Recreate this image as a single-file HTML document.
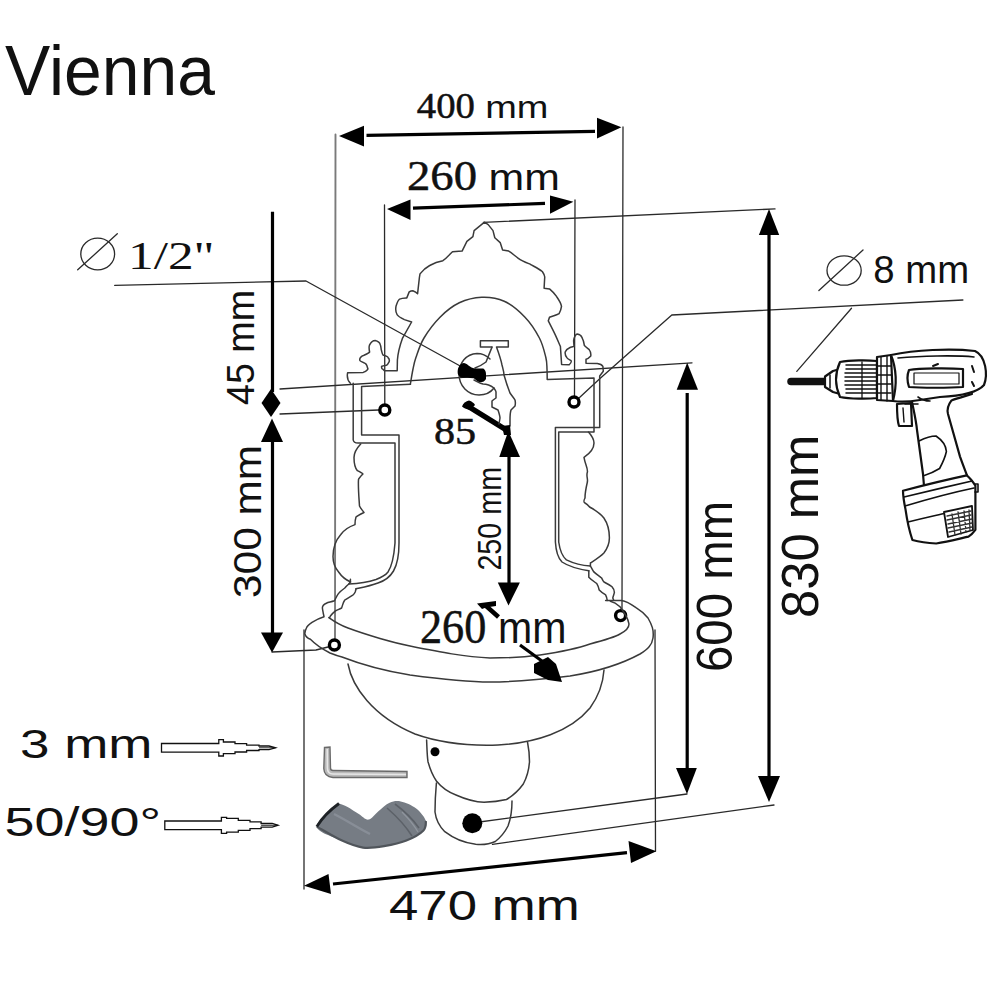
<!DOCTYPE html>
<html><head><meta charset="utf-8">
<style>
html,body{margin:0;padding:0;background:#fff;width:999px;height:999px;overflow:hidden}
svg{display:block}
text{font-family:"Liberation Sans",sans-serif;fill:#111}
.sf{font-family:"Liberation Serif",serif;stroke:#111;stroke-width:0.5}
.t{fill:none;stroke:#2a2a2a;stroke-width:1.3;stroke-linejoin:round;stroke-linecap:round}
.s{fill:none;stroke:#3a3a3a;stroke-width:1.5;stroke-linejoin:round;stroke-linecap:round}
.k{fill:none;stroke:#000;stroke-width:3.2}
.h{fill:#000;stroke:none}
.ring{fill:none;stroke:#000;stroke-width:3.4}
</style></head><body>
<svg width="999" height="999" viewBox="0 0 999 999">
<rect width="999" height="999" fill="#fff"/>

<!-- ===== TEXT ===== -->
<text id="t1" x="5.0" y="95.0" font-size="71.00" textLength="210.0" lengthAdjust="spacingAndGlyphs">Vienna</text>
<text id="t2a" class="sf" x="416.8" y="118.0" font-size="36.35" textLength="58.1" lengthAdjust="spacingAndGlyphs">400</text>
<text id="t2b" x="485.2" y="118.0" font-size="32.05" textLength="63.2" lengthAdjust="spacingAndGlyphs">mm</text>
<text id="t3a" class="sf" x="407.0" y="189.6" font-size="42.45" textLength="70.0" lengthAdjust="spacingAndGlyphs">260</text>
<text id="t3b" x="488.6" y="189.6" font-size="37.82" textLength="71.3" lengthAdjust="spacingAndGlyphs">mm</text>
<text id="t4" class="sf" style="stroke:none" x="128.0" y="268.5" font-size="39.00" textLength="86.6" lengthAdjust="spacingAndGlyphs">1/2"</text>
<text id="t5" transform="translate(254.0,405.0) rotate(-90)" font-size="38.60" textLength="115.1" lengthAdjust="spacingAndGlyphs">45 mm</text>
<text id="t6" transform="translate(261.0,598.0) rotate(-90)" font-size="38.60" textLength="153.1" lengthAdjust="spacingAndGlyphs">300 mm</text>
<text id="t7" class="sf" x="434.0" y="444.0" font-size="37.60" textLength="42.2" lengthAdjust="spacingAndGlyphs">85</text>
<text id="t8" transform="translate(501.2,570.6) rotate(-90)" font-size="32.32" textLength="103.7" lengthAdjust="spacingAndGlyphs">250 mm</text>
<text id="t9a" class="sf" x="420.0" y="642.8" font-size="47.81" textLength="66.3" lengthAdjust="spacingAndGlyphs">260</text>
<text id="t9b" x="498.0" y="642.8" font-size="43.78" textLength="68.4" lengthAdjust="spacingAndGlyphs">mm</text>
<text id="t10" transform="translate(732.0,672.0) rotate(-90)" font-size="50.07" textLength="171.2" lengthAdjust="spacingAndGlyphs">600 mm</text>
<text id="t11" transform="translate(818.0,618.0) rotate(-90)" font-size="51.40" textLength="183.1" lengthAdjust="spacingAndGlyphs">830 mm</text>
<text id="t12" x="873.2" y="283.2" font-size="38.03" textLength="95.9" lengthAdjust="spacingAndGlyphs">8 mm</text>
<text id="t13" x="20.0" y="758.0" font-size="41.43" textLength="132.4" lengthAdjust="spacingAndGlyphs">3 mm</text>
<text id="t14" x="4.6" y="835.8" font-size="40.90" textLength="156.4" lengthAdjust="spacingAndGlyphs">50/90°</text>
<text id="t15" x="389.0" y="919.6" font-size="42.17" textLength="190.7" lengthAdjust="spacingAndGlyphs">470 mm</text>

<!-- diameter symbols -->
<ellipse class="t" cx="97.7" cy="254" rx="16.9" ry="15.9"/>
<line class="t" x1="77.7" y1="269.8" x2="117.3" y2="233.8"/>
<ellipse class="t" cx="844.1" cy="270.5" rx="17.1" ry="14.7"/>
<line class="t" x1="818.9" y1="290.5" x2="863" y2="250"/>

<!-- ===== THIN EXTENSION / LEADER LINES ===== -->
<g class="t">
<line x1="335.5" y1="134.5" x2="335" y2="639" stroke="#7a7a7a" stroke-width="1.9"/>
<line x1="623" y1="127" x2="622" y2="609"/>
<line x1="384.5" y1="205" x2="384.8" y2="403.5"/>
<line x1="575" y1="200" x2="574.5" y2="395.5"/>
<line x1="483.5" y1="222.4" x2="775" y2="208.9"/>
<polyline points="114.7,285.4 306,281 462,367"/>
<line x1="280" y1="389" x2="692" y2="362.8"/>
<line x1="280" y1="414" x2="378.5" y2="410"/>
<polyline points="272,652 316,650 328,647"/>
<line x1="472" y1="823" x2="687" y2="794"/>
<line x1="492.5" y1="844.3" x2="774" y2="805"/>
<line x1="304" y1="630" x2="304" y2="889"/>
<line x1="655" y1="630" x2="655.5" y2="851"/>
<polyline points="579,398 600,378.6 671.8,315 962.9,300"/>
<line x1="851.5" y1="308.3" x2="796.8" y2="371.4"/>
</g>

<!-- ===== THICK DIMENSION ARROWS ===== -->
<g class="k">
<line x1="366.5" y1="135.3" x2="595" y2="131.3"/>
<line x1="413" y1="208.2" x2="545" y2="203.4"/>
<line x1="272.5" y1="211.7" x2="272.5" y2="392"/>
<line x1="272.5" y1="440" x2="272.5" y2="634"/>
<line x1="509" y1="455" x2="509" y2="584"/>
<line x1="687.2" y1="393" x2="687.2" y2="770"/>
<line x1="769" y1="233" x2="769" y2="778"/>
<line x1="333" y1="884" x2="627" y2="852.7"/>
<line x1="466" y1="405" x2="508" y2="431" stroke-width="5.5"/>
</g>
<g class="h">
<polygon points="339,136 364,125.7 364,146.5"/>
<polygon points="621.4,127.3 597,117.7 597,138.5"/>
<polygon points="387,209 410.5,199.4 410.5,220"/>
<polygon points="573.4,201.8 550,195.4 550,213.8"/>
<polygon points="271,389 280.5,403 271,417 261.5,403"/>
<polygon points="272,418.6 261,442 283,442"/>
<polygon points="261,632.5 283,632.5 272,652.5"/>
<polygon points="508.3,431 499.3,457 520,457"/>
<polygon points="497.8,582.6 519.9,582.6 508.5,605.4"/>
<polygon points="687.2,362.8 676.7,389.8 698,389.8"/>
<polygon points="676,768 696.8,768 687,794"/>
<polygon points="769,208.9 758.9,235 779.2,235"/>
<polygon points="758,776 780,776 769,802"/>
<polygon points="304,885.7 328.5,874 331,894"/>
<polygon points="656.4,851.3 628.5,841 631,863"/>
</g>

<!-- hollow arrows -->
<g fill="#fff" stroke="#111" stroke-width="1.3" stroke-linejoin="miter">
<path d="M161.5,743.5 L218.8,743.5 L218.8,739.6 L223.4,739.6 L223.4,742.0 L235.0,742.0 L235.0,743.6 L246.6,743.6 L246.6,745.1 L259.0,745.1 L259.0,746.0 L269.0,746.0 L275.5,747.8 L269.0,749.6 L259.0,749.6 L259.0,750.5 L246.6,750.5 L246.6,752.0 L235.0,752.0 L235.0,753.6 L223.4,753.6 L223.4,756.0 L218.8,756.0 L218.8,752.1 L161.5,752.1 Z"/>
<path d="M259,747.8 L275.5,747.8" stroke-width="0.9"/>
<path d="M164.8,821.0 L221.4,821.0 L221.4,817.3 L226.6,817.3 L226.6,818.4 L238.3,818.4 L238.3,820.3 L250.0,820.3 L250.0,821.9 L261.1,821.9 L261.1,823.5 L272.2,823.5 L278.0,825.3 L272.2,827.1 L261.1,827.1 L261.1,828.7 L250.0,828.7 L250.0,830.3 L238.3,830.3 L238.3,832.2 L226.6,832.2 L226.6,833.3 L221.4,833.3 L221.4,829.6 L164.8,829.6 Z"/>
<path d="M261.1,825.3 L278,825.3" stroke-width="0.9"/>
</g>
<!-- allen key -->
<path d="M324.5,747.5 L330,747 L330.5,768 C330.5,769.5 331.5,770.5 333,770.5 L407,771.5 L407,777.5 L333,777.5 C327,777 324,774 323.8,768.5 Z" fill="#b9b9b9" stroke="#6a6a6a" stroke-width="1.4"/>
<path d="M327.2,749 L327.4,768 C327.5,772 329.5,774 333,774 L406,774.5" fill="none" stroke="#e6e6e6" stroke-width="1.6"/>
<!-- elbow pipe -->
<g>
<path d="M339.0,803.5 C340.4,804.1 344.3,805.2 347.6,807.0 C350.9,808.8 355.3,811.9 358.8,814.0 C362.3,816.1 365.3,820.1 368.6,819.6 C371.9,819.1 374.9,814.0 378.4,811.2 C381.9,808.4 385.9,804.4 389.6,802.8 C393.3,801.2 396.4,800.5 400.8,801.4 C405.2,802.3 412.0,805.1 416.2,808.4 C420.4,811.7 424.8,817.3 426.0,821.0 C427.2,824.7 426.5,827.5 423.2,830.8 C419.9,834.1 412.9,838.0 406.4,840.6 C399.9,843.2 391.2,845.0 384.0,846.2 C376.8,847.4 370.0,848.5 363.0,847.6 C356.0,846.7 349.7,844.1 342.0,840.6 C334.3,837.1 317.3,832.8 316.8,826.6 C316.3,820.4 335.3,807.4 339.0,803.5 Z" fill="#767c84"/>
<path d="M316.8,826.6 C321.0,828.9 334.3,837.1 342.0,840.6 C349.7,844.1 356.0,846.7 363.0,847.6 C370.0,848.5 376.8,847.4 384.0,846.2 C391.2,845.0 399.9,843.2 406.4,840.6 C412.9,838.0 419.9,834.1 423.2,830.8 C426.5,827.5 425.5,822.6 426.0,821.0" fill="none" stroke="#50555b" stroke-width="2.2"/>
<path d="M339,803.5 C330,810 322,818 316.8,826.6" stroke="#1e2226" stroke-width="2.8" fill="none"/>
<path d="M334,814 C346,820 358,828 370,834" stroke="#9096a0" stroke-width="2.5" fill="none" opacity="0.7"/>
<path d="M387,808 C395,815 405,825 412,836 M395,804 C403,810 412,818 419,828" stroke="#5c6168" stroke-width="1.6" fill="none"/>
<path d="M402,812 C408,818 414,825 418,832" stroke="#9aa0a8" stroke-width="1.3" fill="none" opacity="0.7"/>
</g>
<!-- drill -->
<g fill="none" stroke="#111" stroke-width="2.2" stroke-linejoin="round" stroke-linecap="round">
<line x1="791" y1="381.5" x2="827" y2="381.5" stroke-width="7.5"/>
<path d="M825,376.5 L833,371 L840,369 L840,394 L833,392 L825,387 Z" fill="#fff"/>
<path d="M830,375 L830,388" stroke-width="1.5"/>
<path d="M840,362 C850,360 868,360 877,361 L877,398 C868,399 850,399 840,397 C835,386 835,373 840,362 Z" fill="#fff"/>
<path d="M846,365 L876,365 M846,369 L876,369 M845,373 L876,373 M845,377 L876,377 M845,381 L876,381 M845,385 L876,385 M846,389 L876,389 M846,393 L876,393" stroke-width="1.5"/>
<path d="M862,362 L862,398" stroke-width="1.3"/>
<path d="M877,357 L891,355 L893,401 L877,400 Z" fill="#fff"/>
<path d="M881,357 L881,400 M887,356 L887,401 M877,366 L891,366 M877,375 L891,375 M877,384 L891,384 M877,393 L891,393" stroke-width="1.4"/>
<path d="M891,355 C915,350 950,348 975,351 C986,356 988,375 984,385 C978,392 960,396 940,397 L920,400 C908,402 900,402 893,401 C897,385 897,370 891,355 Z" fill="#fff"/>
<path d="M898,358 C920,356 955,355 974,357" stroke-width="1.6"/>
<path d="M909,370 C920,368 950,368 963,369 L963,387 C950,388 920,388 909,387 C907,381 907,375 909,370 Z"/>
<path d="M914,373 L959,373 L959,384 L914,384 Z" stroke-width="1.2"/>
<path d="M933,366 L938,364 M972,366 L974,372 M972,382 L974,386" stroke-width="2"/>
<path d="M897,404 L911,403 L912,426 L899,426 C897,420 897,410 897,404 Z" fill="#fff"/>
<path d="M903,408 L904,422" stroke-width="1.4"/>
<path d="M912,402 C914,412 916,420 917,430 C919,445 921,460 923,474 L924,486" />
<path d="M972,394 C962,397 955,399 951.5,400.4 C948,405 947,410 948,414 C952,428 956,442 960,456.6 C963,465 965,470 967,475.4"/>
<path d="M905,404 L918,404 M918,397 C922,400 926,401 930,401" stroke-width="1.6"/>
<path d="M919,441 C925,438 930,436 936,436 C942,440 946,446 946.4,451.5 C945,458 942,464 939.6,468.5 C934,472 929,474 924.3,475.4" stroke-width="1.6"/>
<path d="M903,490.7 C925,485 945,480 966.8,475.4 C970,478 973,482 975.4,485.6 L975.4,529.8 C973,533 971,535 968.5,536.6 C958,539 946,542 936.2,543.5 C928,543 920,542 912.4,540 C909,530 907,520 905.5,509.4 C904,502 903,496 903,490.7 Z" fill="#fff"/>
<path d="M904,497 C925,492 950,486 972,481 M905,506 C925,500 950,493 974,488 M908,522 C928,517 938,515 946,513" stroke-width="1.6"/>
<path d="M975,484 L978,484 L978,492 L975,492" stroke-width="1.6"/>
<path d="M944,512 L972,506 L973,530 L948,537 Z" fill="#fff" stroke-width="1.8"/>
<path d="M947,516 L971,511 M947,520 L971,515 M948,524 L972,519 M948,528 L972,523 M949,532 L972,527 M952,514 L955,535 M958,512 L961,534 M964,511 L966,532 M969,510 L970,530" stroke-width="1.3" stroke="#333"/>
</g>
<!-- holes -->
<circle class="ring" cx="384.8" cy="410" r="5"/>
<circle class="ring" cx="574" cy="402" r="5"/>
<circle class="ring" cx="334.4" cy="645" r="5"/>
<circle class="ring" cx="620.6" cy="615.6" r="5"/>

<!-- ===== SINK BODY ===== -->
<g id="sink" class="s">
<!-- crest outer with finials -->
<path d="M350.4,383.3 C347,380 347,376 347.6,372.8 L363.2,372.4 C367,371 368.5,369 367.6,368 C367,365 366,364 365.6,363.6 C362,362 360,361 360,360.8 C359,358.5 361,356 364,355.2 C367,354 369,353 369.6,352 C369,349 369,346 369.6,344.8 C371,342 373,340.4 375.2,340.4 C378,341 380,343 380,344 C381,346 381,348 381.2,349.6 C382,352 382,354 383.2,355.2 C386,356 388,356.5 388,357.6 C389.5,359 389.5,360.5 389.2,361.6 C388,364 387,365 386.4,365.2 C384,365.5 382,366 381.6,366.4 C381.5,368 382,369 382.4,368.8 L384.4,370.8 L397.2,370.8 L397.4,360 C398,352 400,345 402.4,338.4 L411.6,322 L404.4,319.6 C401,318 398,316.5 397.2,314.8 C395.5,312 395.5,309 396,306.3 C397,303 398,300 399.6,299.1 C402,298 405,298 406.8,297.9 L409.2,291.9 C410.5,291 411.5,290.7 412.8,290.7 C415,291.5 417,293 417.6,293.7 L419.4,277.5 L420,273.9 C423,270 426,267.5 429.7,265.5 C434,263 438,261.5 442.9,260.7 C447,258 450,254 452.5,251.7 L462.1,251.1 L466.9,241.4 L472.9,236.6 L474.1,230.6 L484.5,222.2 L488.2,224.6 L493,230.6 L494.8,237.8 L500.2,242.6 L502.6,249.9 L508.7,251.1 C512,253 515,256 518.3,258.3 C522,261 526,262.5 530.3,264.3 C535,267 539,269 542.3,271.5 C544,274 545,276 544.7,277.5 L544.1,288.3 L549.5,288.9 C552,291 555,294 556.7,296.7 C559,300 561,303 561.5,306.3 C561,310 560,312 559.1,313.6 C556,315.5 552,316 549.5,317.2 L548.3,320.8 L553.1,330.4 C557,338 560,346 560.4,346.4 L561.6,364.4 L569.2,364.8 C571,363 571.5,361.5 571.2,360.8 C569,359.5 567,358.5 566.8,357.6 C565,355.5 565,353.5 565.2,352 C566,350 568,348.5 569.2,348 C571,347 573,346.8 574,346.4 L573.6,340.8 C574,337 576,334 577.2,334 C580,334.5 581.5,336 582,337.6 C583.5,340 584,343 584.4,345.6 C586,347.5 588,348.5 589.2,349.6 C591,352 591,354 590.8,356 C589,358 587,359 586,359.2 L586,363.2 L597.3,363.6 C600,364 602,365 602.9,366.4 L603.3,371.2 L599.7,376 L599.7,427.6 L555.4,427.6 L555.4,542 C556,552 558,558 562,562 C568,566 578,569 588.8,570.8"/>
<!-- inner arch -->
<path d="M410.4,384.0 C410.8,381.5 412.1,373.4 413.0,369.0 C413.9,364.6 414.2,362.5 416.0,357.3 C417.8,352.1 420.0,344.7 424.0,338.0 C428.0,331.3 434.1,323.1 440.0,317.2 C445.9,311.3 452.4,306.1 459.3,302.8 C466.2,299.5 474.2,297.5 481.7,297.2 C489.2,296.9 497.0,297.9 504.2,301.2 C511.4,304.5 519.1,311.1 525.0,317.2 C530.9,323.3 535.9,331.3 539.4,338.0 C542.9,344.7 544.5,352.1 545.8,357.3 C547.1,362.5 546.8,365.3 547.0,369.0 C547.2,372.7 547.2,377.8 547.2,379.6 L594,378 L594,432 L558.7,432 L558.7,542 C560,551 563,557 566.4,559.8 C573,563 582,565.5 590.4,566"/>
<!-- left band -->
<path d="M353.2,383.3 L353.2,440 C353.5,442 355,443 358,443 L395,443 L395,543 C394,556 392,566 388,572 C385,576 380,578 376,579.5 C370,581.5 360,583.5 348.8,584"/>
<path d="M361.6,386.4 L410.5,384.3 M361.6,386.4 L361.6,435 L399,435 L399,543 C399,556 397,565 393.5,571 C390,577 384,581 378,583 C370,586 362,587.5 356,588.8"/>
<!-- left bulb -->
<path d="M360.7,444 C356,449 354,453 354,457.4 C354,464 356,469 357.4,470.7 C360,472 362,473 362.9,474 C361,476 359,478 358.5,479.5 C358,488 359,498 359.5,506 C361,509 363,511 364,512.5 C361,514 357,516 356,517 C355,520 355,522 355,524.6 C348,527 344,530 340.8,534.5 C335,541 333,548 333,556.6 C333,563 335,568 338.6,572 C342,577 346,580 350.7,582"/>
<!-- right bulb -->
<path d="M588.5,432 C592,436 594,439 594,443 C594,449 589,454 584,457.4 C585,464 588,468 587.4,472 C586,476 588,478 587.4,482 C586,488 585,492 585,498 C584,500 583,502 585,503 C587,504 588,505 589.6,507 C595,510 600,513 603.9,518 C608,524 609.4,531 609.4,537.8 C609.4,545 607,549 603.9,553 C600,557 595,560 590.4,563 L590.4,566"/>
<!-- left zigzag leg -->
<path d="M350.4,579.2 C350.6,581 350,583 348.8,584 C347,585.5 346,586.5 344.8,588 C342,590 340,591.5 338.4,593.6 C336.5,596 335.5,599 334.4,600.8 C331,602 328.5,602.3 326.4,603.2 C323.5,604.5 322.3,606 322.4,608 C322.6,610 323,611.5 323.2,612.8 C323.5,614.5 324,616 324,616.8 C320,618 316,620 312,622.4 C309,624.5 307,626 306.4,628 C305.5,630 304.8,632 304.8,633.7 C305.5,636 307,638 310.4,639.3 C314,643 320,648 330,653 C335,655 338,656 342,657 C360,664 385,671 410,675 C440,679 465,682 490,682 C520,682 545,679 570,676 C595,672 618,666 640,654 C648,649 652,645 653,638 C654,630 652,625 648,618 C644,613 640,610 636,607.6 C631,604 626,601 621.6,600.4 L605.6,600.4"/>
<path d="M356,588.8 C355.8,590 355.5,591 355.2,592 C354.5,593.5 353.8,594.5 352.8,595.2 C350,597 347,598.5 344.8,600 C343,602.5 342.5,605.5 341.6,608 C339,609.5 337,610 335.2,611.2 C333,613 331.5,614.5 330.4,616 L329.6,617.6"/>
<!-- right zigzag leg -->
<path d="M590.4,566 C591.5,568 592.5,570 593.6,571.6 C596,574 599,576 601.6,578 C602.5,579.5 603,581 604,582 C607,583.5 610,585 612,586.8 C613.5,588.5 614.4,590.5 614.4,592.4 C614,594.5 613,596.5 612.8,598 L613.6,600"/>
<path d="M588.8,570.8 C588.8,573 588.8,575.5 588.8,577.2 C591,579.5 594,581.5 596.8,583.6 C598,585.5 598.8,588 599.2,590 C601,592 603.5,593.5 605.6,594.8 C606.5,596.5 607,598.5 607.2,600.4"/>
<!-- front lip -->
<path d="M328.8,617.6 C335,622 341,625.5 348,628 C356,631 365,634 380,638.5 C392,642 400,644 410,646 C440,652 465,657 490,658 C510,658 525,657 540,655 C560,652 576,649 590,644 C605,640 615,637 620,634 C626,631 629,627 629,624 C628,618 624,612 620,606.8 C617,604 614,602 610.4,601.2"/>
<!-- bowl body -->
<path d="M348,664 C352,686 372,716 415,734 C440,743 470,746 498,745 C535,743 570,732 590,708 C598,697 603,684 604,670"/>
<!-- pedestal -->
<path d="M426.6,740 C427,748 427,755 428,761.7 C430,769 433,776 436.4,781 C442,788 448,792 456,795 C465,799 474,802 484,802.3 C492,802 500,801 506.5,799.5 C514,795 519,790 523.3,784 C527,777 529,769 529.5,761.7 C529.5,754 528.5,747 527.5,742"/>
<path d="M436.4,783 C435.5,793 435,803 435,812 C436,820 440,827 444.8,831.7 C453,838 464,843 475.7,844.3 C484,845 490,844 495.3,841.5 C501,837 505,832 508,826 C511,818 512,809 512,801"/>
</g>
<!-- faucet -->
<g class="s">
<path d="M492,347.1 L480.4,347.1 L480.4,340.8 L508.3,340.8 L508.3,347.1 L496.5,347.1 C499,354 501,360 502,365 C503,369 504,372 504,375 C506,382 508,388 510,393 C512,396 514,398 515,400 C515.5,402 515.5,404 515,406 C513,408 512,409 511,410 C510,413 510,417 510,420 L510,426"/>
<path d="M492,347.1 C490,352 488,357 486,362 C482,365 478,367 475,368"/>
<path d="M490,359 C486,355 482,353.5 477,353.5 C466,354 459,363 459,374 C459,386 468,395 479,395 C486,395 491,392 494,388 C490,385 486,384 483,384 C479,383 476,381 474,380"/>
<path d="M494,388 C495,390 496,391 496,392 L496,398 C494.5,399 493,400 492,401 L492,407 C494,408 496,409 498,410 C499,413 500,416 500,418 L499,424"/>
</g>
<g class="h">
<path d="M457.7,373.3 C457.5,370 458,368 459,366.5 C460,364 462,363 464,362.9 C466,363 468,365 470,366.5 C472,368 474,368.5 476,368.5 L483.3,368.5 C485,369.5 486,371.5 486,374 L486,379 C485,381 483,382.3 480,382.3 C477,381.5 475,379 473.7,378.3 C469,378 464,378 461,377.5 C459,376.5 458,375 457.7,373.3 Z"/>
<path d="M462,406.5 C463,403 466,401 469,400.5 C472,401.5 474,403 475,405 L470,410 C466,409 463.5,408 462,406.5 Z"/>
<path d="M502,426 L510,425 L511,435 L504,435 Z"/>
<circle cx="435" cy="751.8" r="4.5"/>
<circle cx="472.3" cy="823.3" r="10"/>
<path d="M534,664 L548,657 L556,664 L562,682 L548,680 L534,673 Z"/>
<path d="M477,603.5 L496,601 L496,606 L486,607.5 L482,609 Z"/>
</g>
<g class="k" stroke-width="3">
<line x1="520" y1="645" x2="546" y2="664"/>
<line x1="485" y1="605" x2="498.5" y2="617" stroke-width="4.5"/>
</g>

</svg>
</body></html>
